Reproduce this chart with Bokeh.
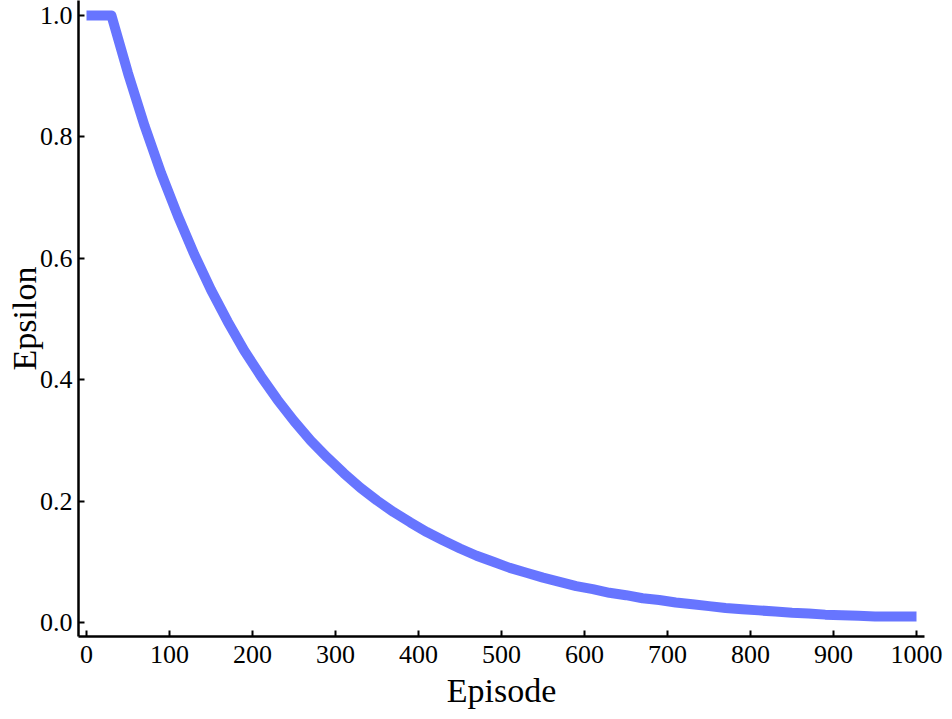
from bokeh.plotting import figure
from bokeh.models import Range1d, FixedTicker, CustomJSTickFormatter
from bokeh.embed import file_html
from bokeh.resources import INLINE

episodes = [0, 30, 50, 70, 90, 110, 130, 150, 170, 190, 210, 230, 250, 270, 290, 310,
            330, 350, 370, 390, 410, 430, 450, 470, 490, 510, 530, 550, 570, 590, 610,
            630, 650, 670, 690, 710, 730, 750, 770, 790, 810, 830, 850, 870, 890, 910,
            930, 950, 970, 1000]
epsilon = [1.0, 1.0, 0.905, 0.818, 0.740, 0.670, 0.606, 0.548, 0.496, 0.448, 0.406,
           0.367, 0.332, 0.300, 0.272, 0.246, 0.222, 0.201, 0.182, 0.165, 0.149, 0.135,
           0.122, 0.110, 0.100, 0.090, 0.082, 0.074, 0.067, 0.060, 0.055, 0.049, 0.045,
           0.040, 0.037, 0.033, 0.030, 0.027, 0.024, 0.022, 0.020, 0.018, 0.016, 0.015,
           0.013, 0.012, 0.011, 0.010, 0.010, 0.010]
x_ticks = [0, 100, 200, 300, 400, 500, 600, 700, 800, 900, 1000]
y_ticks = [0.0, 0.2, 0.4, 0.6, 0.8, 1.0]

FONT = "Liberation Serif"

W, H = 944, 711
L = 78          # frame left (figure px)
R_BORDER = 20   # frame right = W - R_BORDER
X0 = L + 8      # pixel of episode 0
X1000 = 916     # pixel of episode 1000
sx = (X1000 - X0) / 1000.0
TOP_Y = 15      # pixel of 1.0 below frame top
ZERO_Y = 623    # pixel of 0.0
AXIS_Y = 637    # frame bottom
sy = (ZERO_Y - TOP_Y) / 1.0

p = figure(width=W, height=H, output_backend="svg", toolbar_location=None,
           x_range=Range1d(-(X0 - L) / sx, 1000 + (W - R_BORDER - X1000) / sx),
           y_range=Range1d(-(AXIS_Y - ZERO_Y) / sy, 1.0 + TOP_Y / sy),
           min_border_left=L, min_border_right=R_BORDER, min_border_top=0,
           min_border_bottom=H - AXIS_Y)
p.outline_line_color = None
p.xgrid.visible = False
p.ygrid.visible = False

p.line(episodes, epsilon, line_width=10, line_color="#5f6eff", line_alpha=0.95,
       line_join="round")

for ax in (p.xaxis[0], p.yaxis[0]):
    ax.axis_line_color = "black"
    ax.axis_line_width = 2.5
    ax.major_tick_line_color = "black"
    ax.major_tick_line_width = 2
    ax.major_tick_in = 6
    ax.major_tick_out = 0
    ax.minor_tick_line_color = None
    ax.major_label_text_font = FONT
    ax.major_label_text_font_size = "26px"
    ax.major_label_text_color = "black"
    ax.axis_label_text_font = FONT
    ax.axis_label_text_font_size = "34px"
    ax.axis_label_text_font_style = "normal"
    ax.axis_label_text_color = "black"

p.xaxis[0].ticker = FixedTicker(ticks=x_ticks)
p.yaxis[0].ticker = FixedTicker(ticks=y_ticks)
p.yaxis[0].formatter = CustomJSTickFormatter(code="return tick.toFixed(1);")
p.xaxis[0].major_label_standoff = 9
p.yaxis[0].major_label_standoff = 6
p.xaxis.axis_label = "Episode"
p.yaxis.axis_label = "Epsilon"
p.xaxis[0].axis_label_standoff = 6
p.yaxis[0].axis_label_standoff = -6

open("out.html", "w").write(file_html(p, INLINE))
